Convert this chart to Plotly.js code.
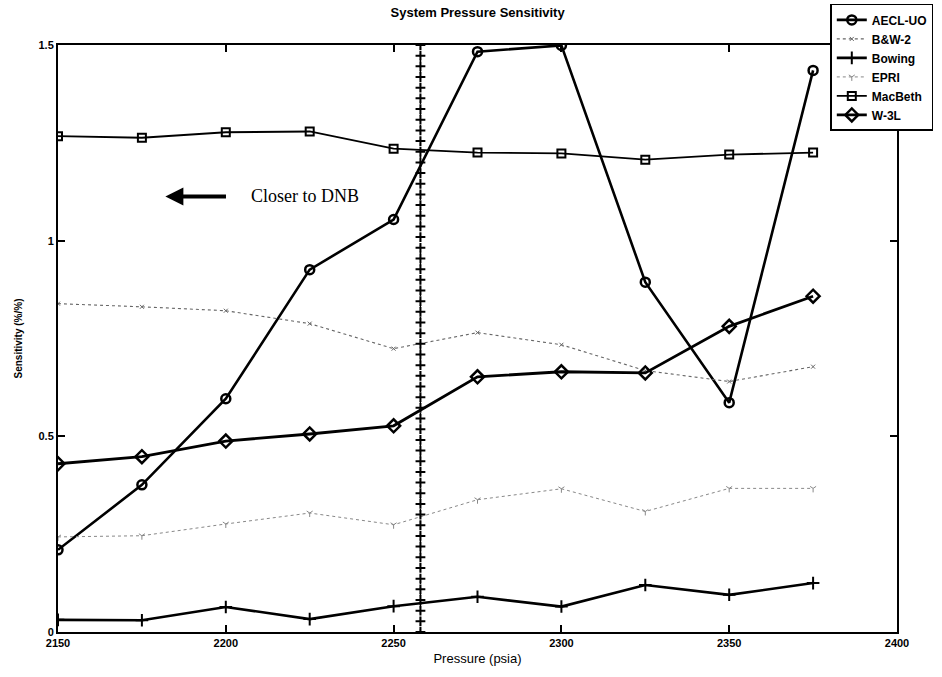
<!DOCTYPE html>
<html>
<head>
<meta charset="utf-8">
<script src="https://cdn.plot.ly/plotly-3.0.1.min.js"></script>
<style>html,body{margin:0;padding:0;background:#fff;}#chart{width:942px;height:677px;}</style>
</head>
<body>
<div id="chart"></div>
<script>
const pressure = [2150, 2175, 2200, 2225, 2250, 2275, 2300, 2325, 2350, 2375];
const aeclUO  = [0.21, 0.376, 0.596, 0.926, 1.054, 1.483, 1.499, 0.894, 0.586, 1.435];
const bw2     = [0.839, 0.831, 0.821, 0.788, 0.724, 0.765, 0.734, 0.668, 0.640, 0.678];
const bowing  = [0.031, 0.030, 0.064, 0.033, 0.066, 0.090, 0.065, 0.120, 0.095, 0.125];
const epri    = [0.243, 0.246, 0.276, 0.304, 0.274, 0.338, 0.366, 0.308, 0.367, 0.367];
const macbeth = [1.267, 1.263, 1.277, 1.279, 1.235, 1.225, 1.223, 1.207, 1.220, 1.225];
const w3l     = [0.430, 0.448, 0.488, 0.506, 0.527, 0.652, 0.665, 0.662, 0.781, 0.858];
const seriesNames = ['AECL-UO', 'B&W-2', 'Bowing', 'EPRI', 'MacBeth', 'W-3L'];
const xTicks = [2150, 2200, 2250, 2300, 2350, 2400];
const yTicks = [0, 0.5, 1, 1.5];
const dnbPressure = 2258;
const dnbMarkerY = [];
for (let i = 0; i <= 55; i++) dnbMarkerY.push(i * 1.5 / 55);

const traces = [
  {x: pressure, y: aeclUO, name: seriesNames[0], mode: 'lines+markers',
   line: {color: '#000', width: 2.6},
   marker: {symbol: 'circle-open', size: 9, color: '#000', line: {width: 2.5, color: '#000'}}},
  {x: pressure, y: bw2, name: seriesNames[1], mode: 'lines+markers',
   line: {color: '#666', width: 1.1, dash: 'dot'},
   marker: {symbol: 'x-thin', size: 4, color: '#666', line: {width: 1, color: '#666'}}},
  {x: pressure, y: bowing, name: seriesNames[2], mode: 'lines+markers',
   line: {color: '#000', width: 2.6},
   marker: {symbol: 'cross-thin', size: 9, color: '#000', line: {width: 2, color: '#000'}}},
  {x: pressure, y: epri, name: seriesNames[3], mode: 'lines+markers',
   line: {color: '#888', width: 1, dash: 'dot'},
   marker: {symbol: 'y-down', size: 5, color: '#888', line: {width: 1, color: '#888'}}},
  {x: pressure, y: macbeth, name: seriesNames[4], mode: 'lines+markers',
   line: {color: '#000', width: 1.8},
   marker: {symbol: 'square-open', size: 8, color: '#000', line: {width: 2, color: '#000'}}},
  {x: pressure, y: w3l, name: seriesNames[5], mode: 'lines+markers',
   line: {color: '#000', width: 2.8},
   marker: {symbol: 'diamond-open', size: 10, color: '#000', line: {width: 2.5, color: '#000'}}},
  {x: dnbMarkerY.map(() => dnbPressure), y: dnbMarkerY, mode: 'lines+markers', showlegend: false,
   hoverinfo: 'skip',
   line: {color: '#000', width: 1.2, dash: 'dot'},
   marker: {symbol: 'cross-thin', size: 7, color: '#000', line: {width: 2, color: '#000'}}}
];

const layout = {
  width: 942, height: 677,
  margin: {l: 57.5, r: 45.3, t: 45, b: 45, autoexpand: false},
  paper_bgcolor: '#fff', plot_bgcolor: '#fff',
  font: {family: 'Arial, Liberation Sans, sans-serif', color: '#000', size: 11},
  title: {text: '<b>System Pressure Sensitivity</b>', x: 0.507, xanchor: 'center', y: 0.988, yanchor: 'top',
          font: {size: 13, family: 'Arial, Liberation Sans, sans-serif', color: '#000'}},
  xaxis: {range: [2150, 2400], tickvals: xTicks, ticktext: xTicks.map(String), ticks: 'inside', ticklen: 7,
          tickwidth: 2, tickcolor: '#000', showline: true, linecolor: '#000', linewidth: 2, mirror: 'ticks',
          showgrid: false, zeroline: false, tickfont: {size: 11, color: '#000', weight: 'bold'},
          title: {text: 'Pressure (psia)', font: {size: 13, color: '#000'}, standoff: 6}},
  yaxis: {range: [0, 1.5], tickvals: yTicks, ticktext: ['0', '0.5', '1', '1.5'], ticks: 'inside', ticklen: 7,
          tickwidth: 2, tickcolor: '#000', showline: true, linecolor: '#000', linewidth: 2, mirror: 'ticks',
          showgrid: false, zeroline: false, tickfont: {size: 11, color: '#000', weight: 'bold'},
          title: {text: '<b>Sensitivity (%/%)</b>', font: {size: 10, color: '#000'}, standoff: 14}},
  legend: {x: 0.9205, xref: 'paper', y: 1.07, yref: 'paper', xanchor: 'left', yanchor: 'top',
           bgcolor: '#fff', bordercolor: '#000', borderwidth: 1.5,
           font: {size: 12, color: '#000', family: 'Arial, Liberation Sans, sans-serif', weight: 'bold'},
           tracegroupgap: 0, itemwidth: 30},
  annotations: [
    {x: 2182, y: 1.113, ax: 2200.5, ay: 1.113, axref: 'x', ayref: 'y', xref: 'x', yref: 'y',
     text: '', showarrow: true, arrowhead: 2, arrowsize: 0.9, arrowwidth: 4, arrowcolor: '#000'},
    {x: 2207, y: 1.113, xref: 'x', yref: 'y', xanchor: 'left', yanchor: 'middle', showarrow: false,
     text: 'Closer to DNB', font: {family: 'Liberation Serif, Times New Roman, serif', size: 18, color: '#000'}}
  ]
};

Plotly.newPlot('chart', traces, layout, {displayModeBar: false, staticPlot: true});
</script>
</body>
</html>
